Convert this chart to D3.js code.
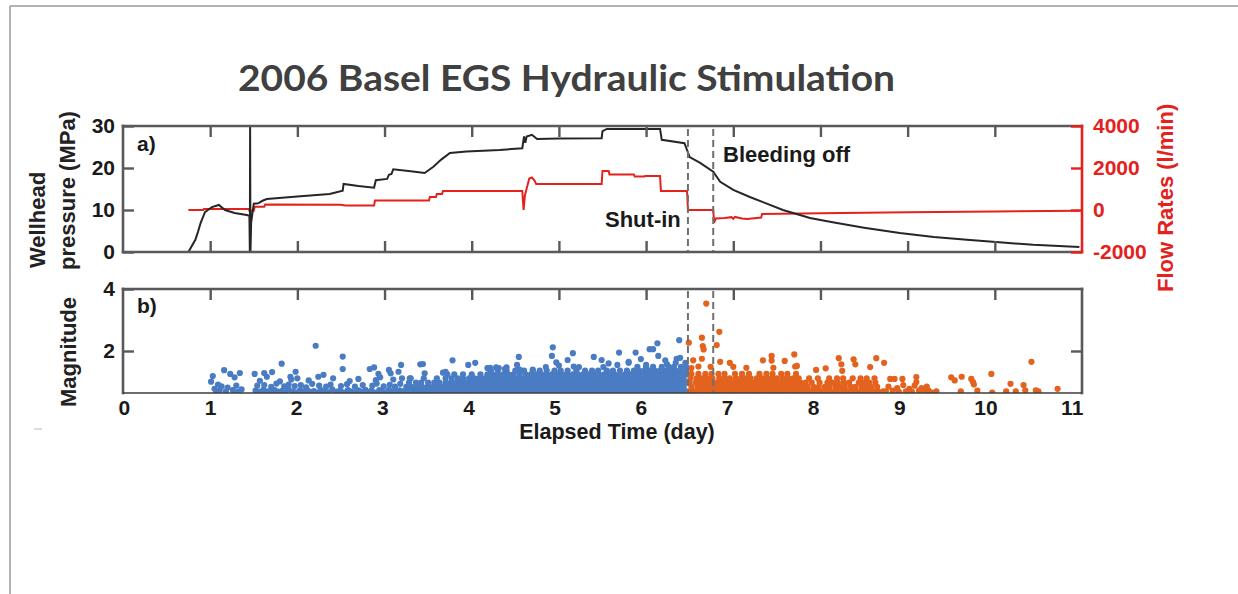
<!DOCTYPE html>
<html><head><meta charset="utf-8">
<script src="https://cdn.jsdelivr.net/npm/d3@7"></script>
<style>body{margin:0;background:#fff}svg{display:block}</style>
</head><body><svg id="c" width="1238" height="594"></svg>
<script>
// ---------------- DATA ----------------
const titleText = "2006 Basel EGS Hydraulic Stimulation";
const xTicks = [0,1,2,3,4,5,6,7,8,9,10,11];
const pressureTicks = [0,10,20,30];
const flowTicks = [-2000,0,2000,4000];
const magTicks = [2,4];

// wellhead pressure (MPa) vs elapsed time (day)
const pressure = [[0.75,0],[0.83,2.9],[0.86,4.8],[0.89,6.9],[0.94,9.5],[1.02,10.7],[1.10,11.2],[1.17,10.0],[1.28,9.3],[1.42,8.8],[1.45,8.6],[1.455,0],[1.458,30],[1.462,0],[1.47,7],[1.5,11.5],[1.55,11.6],[1.6,12.2],[1.65,12.6],[2.0,13.2],[2.37,13.8],[2.52,14.6],[2.53,16.2],[2.7,15.7],[2.88,15.3],[2.9,17.1],[3.03,17.4],[3.05,18.4],[3.08,18.6],[3.1,19.7],[3.3,19.2],[3.46,18.8],[3.56,20.3],[3.65,22],[3.75,23.6],[3.94,23.9],[4.32,24.3],[4.58,24.7],[4.6,27.5],[4.615,26],[4.63,27.5],[4.69,27.9],[4.75,26.9],[5.0,27.0],[5.49,27.1],[5.5,28.8],[5.55,29.3],[6.16,29.3],[6.18,26.7],[6.44,25.9],[6.5,22.6],[6.62,21.2],[6.77,19.1],[6.85,16.7],[7.0,14.8],[7.19,13.1],[7.57,10.0],[7.88,8.1],[8.14,7.1],[8.5,5.8],[8.91,4.5],[9.3,3.6],[9.68,2.9],[10.05,2.3],[10.44,1.7],[10.97,1.2]];

// flow rate (l/min) vs elapsed time (day)
const flow = [[0.75,0],[0.92,0],[0.93,50],[1.44,50],[1.45,-40],[1.5,-40],[1.51,150],[1.62,150],[1.63,260],[2.5,250],[2.55,210],[2.88,210],[2.89,450],[3.51,450],[3.52,620],[3.59,620],[3.6,760],[3.66,760],[3.67,900],[4.58,900],[4.595,0],[4.61,700],[4.66,1500],[4.69,1550],[4.72,1400],[4.74,1240],[5.49,1240],[5.5,1860],[5.57,1860],[5.58,1690],[5.86,1690],[5.87,1600],[5.98,1600],[5.99,1620],[6.16,1620],[6.17,900],[6.47,900],[6.48,0],[6.77,0],[6.78,-600],[6.8,-400],[6.9,-380],[6.98,-340],[7.0,-420],[7.02,-330],[7.1,-400],[7.16,-430],[7.32,-360],[7.33,-190],[8,-150],[9,-110],[10,-70],[10.97,-30]];

// seismic events during injection (blue): [day, magnitude]
const blueEvents = [
[1.01,1.01],[1.03,1.19],[1.05,0.78],[1.07,0.68],[1.09,0.92],[1.11,0.74],[1.13,0.86],[1.16,1.38],[1.18,0.7],[1.2,0.82],[1.23,1.26],[1.26,0.74],[1.28,1.15],[1.3,0.88],[1.32,0.68],[1.34,1.29],[1.36,0.76],
[1.52,0.72],[1.57,0.68],[1.61,0.75],[1.66,0.7],[1.69,0.67],[1.74,0.74],[1.78,0.69],[1.83,0.72],[1.86,0.67],[1.9,0.76],[1.95,0.7],[1.99,0.66],[2.03,0.73],[2.06,0.69],[2.11,0.75],[2.15,0.68],[2.19,0.71],[2.23,0.66],[2.27,0.74],[2.31,0.7],[2.35,0.67],[2.4,0.76],[2.45,0.69],[2.49,0.72],[2.53,0.67],[2.58,0.74],[2.61,0.7],[2.65,0.66],[2.7,0.73],[2.73,0.69],[2.78,0.75],[2.82,0.68],[2.85,0.72],[2.89,0.66],[2.94,0.74],[2.97,0.7],[3.01,0.67],[3.05,0.75],[3.09,0.7],[3.13,0.68],[3.17,0.73],[3.21,0.69],
[1.54,0.88],[1.62,0.9],[1.7,0.84],[1.76,0.95],[1.85,0.86],[1.9,0.92],[1.97,0.87],[2.04,0.9],[2.1,0.83],[2.17,0.94],[2.25,0.88],[2.33,0.85],[2.38,0.92],[2.5,0.87],[2.57,0.93],[2.66,0.85],[2.75,0.9],[2.86,0.88],[2.91,0.95],[2.99,0.86],[3.06,0.91],[3.12,0.85],[3.18,0.94],
[1.57,1.04],[1.65,1.17],[1.8,1.02],[1.93,1.08],[2.0,1.12],[2.13,1.05],[2.24,1.17],[2.3,1.23],[2.41,1.12],[2.6,1.03],[2.7,1.1],[2.9,1.06],[2.95,1.15],[3.1,1.08],[3.2,1.12],
[1.51,1.26],[1.62,1.29],[1.71,1.32],[1.82,1.59],[1.92,1.17],[1.98,1.33],[2.21,2.17],[2.52,1.82],[2.52,1.42],[2.83,1.42],[2.88,1.47],[2.93,1.26],[3.05,1.39],[3.07,1.28],[3.16,1.33],[3.19,1.55],[3.29,1.12],[3.41,1.57],
[3.44,1.58],[3.46,1.28],[3.7,1.33],[3.78,1.70],[3.96,1.55],[4.04,1.62],[4.21,1.46],[4.31,1.45],[4.38,1.42],[4.52,1.55],[4.54,1.81],[4.55,1.40],[4.92,1.84],[4.93,2.12],[4.97,1.63],[5.10,1.71],[5.16,1.93],[5.17,1.50],[5.40,1.81],[5.49,1.71],[5.57,1.60],[5.69,1.95],[5.80,1.65],[5.88,1.95],[5.94,1.74],[6.04,2.06],[6.08,2.06],[6.13,2.25],[6.14,1.84],[6.24,1.57],[6.34,1.62],[6.38,2.35],[6.39,1.78],
[3.67,1.3],[4.18,1.45],[4.28,1.47],[4.4,1.47],[4.7,1.4],[4.85,1.48],[5.0,1.53],[5.23,1.48],[5.51,1.48],[5.67,1.55],[5.8,1.62],[6.0,1.55],[6.22,1.7],[6.35,1.75],[6.45,1.62]
];
// dense blue band: [magnitude, days]
const blueBand = [
[0.70,[3.22,3.28,3.34,3.40,3.46,3.52,3.58,3.64,3.70,3.76,3.82,3.88,3.94,4.00,4.06,4.12,4.18,4.24,4.30,4.36,4.42,4.48,4.54,4.60,4.66,4.72,4.78,4.84,4.90,4.96,5.02,5.08,5.14,5.20,5.26,5.32,5.38,5.44,5.50,5.56,5.62,5.68,5.74,5.80,5.86,5.92,5.98,6.04,6.10,6.16,6.22,6.28,6.34,6.40,6.46]],
[0.84,[3.25,3.31,3.37,3.43,3.49,3.55,3.61,3.67,3.73,3.79,3.85,3.91,3.97,4.03,4.09,4.15,4.21,4.27,4.33,4.39,4.45,4.51,4.57,4.63,4.69,4.75,4.81,4.87,4.93,4.99,5.05,5.11,5.17,5.23,5.29,5.35,5.41,5.47,5.53,5.59,5.65,5.71,5.77,5.83,5.89,5.95,6.01,6.07,6.13,6.19,6.25,6.31,6.37,6.43]],
[0.98,[3.28,3.36,3.42,3.5,3.57,3.63,3.7,3.76,3.82,3.88,3.94,4.0,4.06,4.12,4.18,4.24,4.3,4.36,4.42,4.48,4.54,4.6,4.66,4.72,4.78,4.84,4.9,4.96,5.02,5.08,5.14,5.2,5.26,5.32,5.38,5.44,5.5,5.56,5.62,5.68,5.74,5.8,5.86,5.92,5.98,6.04,6.1,6.16,6.22,6.28,6.34,6.4,6.46]],
[1.12,[3.3,3.45,3.6,3.7,3.77,3.84,3.9,3.97,4.03,4.09,4.15,4.21,4.27,4.33,4.39,4.45,4.51,4.57,4.63,4.69,4.75,4.81,4.87,4.93,4.99,5.05,5.11,5.17,5.23,5.29,5.35,5.41,5.47,5.53,5.59,5.65,5.71,5.77,5.83,5.89,5.95,6.01,6.07,6.13,6.19,6.25,6.31,6.37,6.43]],
[1.25,[3.72,3.8,3.9,4.0,4.1,4.18,4.24,4.3,4.36,4.42,4.48,4.55,4.62,4.68,4.74,4.8,4.86,4.92,4.98,5.04,5.1,5.16,5.22,5.28,5.34,5.4,5.46,5.52,5.58,5.64,5.7,5.76,5.82,5.88,5.94,6.0,6.06,6.12,6.18,6.24,6.3,6.36,6.42,6.46]],
[1.37,[4.22,4.3,4.4,4.5,4.6,4.7,4.78,4.86,4.95,5.02,5.1,5.2,5.3,5.38,5.45,5.55,5.62,5.7,5.78,5.86,5.92,5.98,6.04,6.1,6.16,6.22,6.28,6.34,6.4,6.46]],
[1.49,[5.9,6.0,6.08,6.18,6.26,6.32,6.4,6.46]]
];

// seismic events after shut-in (orange): [day, magnitude]
const orangeEvents = [
[6.49,2.27],[6.54,1.70],[6.64,2.43],[6.65,2.16],[6.66,2.05],[6.64,1.75],[6.69,3.53],[6.74,1.49],[6.81,2.19],[6.84,2.62],[6.85,1.65],[6.96,1.62],[7.00,1.49],[7.15,1.46],[7.34,1.70],[7.44,1.84],[7.44,1.69],[7.46,1.46],[7.59,1.68],[7.70,1.89],[7.73,1.52],[7.71,1.5],[7.95,1.39],[8.06,1.44],[8.21,1.77],[8.24,1.57],[8.25,1.36],[8.38,1.73],[8.40,1.57],[8.57,1.48],[8.64,1.77],[8.73,1.62],[6.6,1.5],[6.52,1.45],
[8.75,0.7],[8.78,0.85],[8.8,1.1],[8.83,0.72],[8.85,1.1],[8.88,0.8],[8.9,0.68],[8.94,1.1],[8.95,0.9],[8.98,0.7],[9.02,0.78],[9.05,0.68],[9.08,0.88],[9.1,1.16],[9.1,1.0],[9.13,0.72],[9.16,0.8],[9.2,0.68],[9.22,0.85],[9.24,0.72],[9.28,0.66],[9.33,0.7],
[9.50,1.15],[9.54,1.05],[9.62,1.17],[9.61,0.70],[9.73,1.10],[9.75,1.0],[9.76,0.92],[9.80,0.72],[9.96,1.26],[9.97,0.66],[10.18,0.94],[10.13,0.70],[10.24,0.70],[10.33,0.9],[10.35,0.73],[10.42,1.65],[10.47,0.73],[10.5,0.7],[10.72,0.78]
];
const orangeBand = [
[0.70,[6.5,6.56,6.62,6.68,6.74,6.8,6.86,6.92,6.98,7.04,7.1,7.16,7.22,7.28,7.34,7.4,7.46,7.52,7.58,7.64,7.7,7.76,7.82,7.88,7.94,8.0,8.06,8.12,8.18,8.24,8.3,8.36,8.42,8.48,8.54,8.6,8.66,8.72]],
[0.84,[6.52,6.59,6.65,6.71,6.77,6.83,6.89,6.95,7.01,7.07,7.13,7.19,7.25,7.31,7.37,7.43,7.49,7.55,7.61,7.67,7.73,7.79,7.85,7.92,7.98,8.05,8.1,8.17,8.22,8.28,8.35,8.4,8.47,8.52,8.58,8.65]],
[0.98,[6.5,6.57,6.63,6.69,6.75,6.81,6.87,6.93,6.99,7.05,7.11,7.17,7.23,7.29,7.35,7.41,7.47,7.53,7.59,7.65,7.71,7.77,7.83,7.9,7.99,8.08,8.14,8.2,8.27,8.33,8.44,8.5,8.56,8.63]],
[1.12,[6.51,6.58,6.64,6.7,6.76,6.84,6.9,6.96,7.03,7.09,7.14,7.2,7.27,7.33,7.39,7.45,7.5,7.57,7.63,7.69,7.75,7.87,7.97,8.1,8.19,8.26,8.37,8.46,8.53,8.62]],
[1.26,[6.52,6.6,6.68,6.75,6.83,6.9,7.02,7.1,7.18,7.3,7.38,7.45,7.55,7.62,7.72]]
];

const phases = [{t:6.48, label:"Shut-in"},{t:6.77, label:"Bleeding off"}];

// ---------------- DRAW ----------------
const svg = d3.select("#c");
const FONT = "'Liberation Sans', Arial, Helvetica, sans-serif";
const FRAME = "#59595b", RED = "#e3211d", BLUE = "#4a7cc4", ORANGE = "#e2621e", INK = "#1a1a1a";
const fmt = d3.format("d");
const fmtFlow = v => String(v);

const x = d3.scaleLinear().domain([0, 11]).range([123, 1082]);
const xLabel = d3.scaleLinear().domain([0, 11]).range([123.8, 1071.7]);
const yP = d3.scaleLinear().domain([0, 30]).range([252, 126]);
const yF = d3.scaleLinear().domain([-2000, 4000]).range([252, 126]);
const yM = d3.scaleLinear().domain([0.645, 4]).range([393, 289]);

// slide border
svg.append("line").attr("x1",10).attr("y1",6).attr("x2",1238).attr("y2",6).attr("stroke","#9a9a9a").attr("stroke-width",1.5);
svg.append("line").attr("x1",10).attr("y1",6).attr("x2",10).attr("y2",594).attr("stroke","#9a9a9a").attr("stroke-width",1.5);
svg.append("line").attr("x1",34).attr("y1",429).attr("x2",42).attr("y2",429).attr("stroke","#bbb").attr("stroke-width",1);

// title
svg.append("text").attr("x",238).attr("y",91).text(titleText)
  .attr("textLength",657).attr("lengthAdjust","spacingAndGlyphs")
  .style("font-family","Lato, 'Open Sans', sans-serif").style("font-weight","700").style("font-size","37px").attr("fill","#404040");

const defs = svg.append("defs");
defs.append("clipPath").attr("id","clipA").append("rect")
  .attr("x",x(0)).attr("y",yP(30)).attr("width",x(11)-x(0)).attr("height",yP(0)-yP(30));
defs.append("clipPath").attr("id","clipB").append("rect")
  .attr("x",x(0)).attr("y",yM(4)).attr("width",x(11)-x(0)).attr("height",yM(0.645)-yM(4));

// panel a data
const gA = svg.append("g").attr("clip-path","url(#clipA)");
gA.append("path").datum(flow).attr("fill","none").attr("stroke",RED).attr("stroke-width",2)
  .attr("d", d3.line().x(d=>x(d[0])).y(d=>yF(d[1])));
gA.append("path").datum(pressure).attr("fill","none").attr("stroke","#262626").attr("stroke-width",2)
  .attr("d", d3.line().x(d=>x(d[0])).y(d=>yP(d[1])));

// panel b data
const expand = band => band.flatMap(([m, ts]) => ts.map(t => [t, m]));
const blueAll = expand(blueBand).concat(blueEvents);
const orangeAll = expand(orangeBand).concat(orangeEvents);
const gB = svg.append("g").attr("clip-path","url(#clipB)");
gB.selectAll("circle.b").data(blueAll).join("circle").attr("class","b")
  .attr("cx",d=>x(d[0])).attr("cy",d=>yM(d[1])).attr("r",3.1).attr("fill",BLUE);
gB.selectAll("circle.o").data(orangeAll).join("circle").attr("class","o")
  .attr("cx",d=>x(d[0])).attr("cy",d=>yM(d[1])).attr("r",3.1).attr("fill",ORANGE);

// dashed phase lines
phases.forEach(p => {
  svg.append("line").attr("x1",x(p.t)).attr("x2",x(p.t)).attr("y1",yP(30)+3).attr("y2",yP(0))
    .attr("stroke","#707070").attr("stroke-width",2).attr("stroke-dasharray","7,4");
  svg.append("line").attr("x1",x(p.t)).attr("x2",x(p.t)).attr("y1",yM(4)+2).attr("y2",yM(0.645))
    .attr("stroke","#707070").attr("stroke-width",2).attr("stroke-dasharray","7,4");
});

function styleAxis(g, color, labelColor){
  g.select(".domain").remove();
  g.selectAll(".tick line").attr("stroke",color).attr("stroke-width",2.4);
  g.selectAll(".tick text").attr("fill",labelColor||INK)
    .style("font-family",FONT).style("font-weight","bold").style("font-size","21px");
}
const inner = xTicks.slice(1,-1);

// panel a axes
svg.append("g").attr("transform",`translate(0,${yP(30)})`)
  .call(d3.axisTop(x).tickValues(inner).tickSize(-11).tickFormat("")).call(g=>styleAxis(g,FRAME));
svg.append("g").attr("transform",`translate(0,${yP(0)})`)
  .call(d3.axisBottom(x).tickValues(inner).tickSize(-11).tickFormat("")).call(g=>styleAxis(g,FRAME));
svg.append("g").attr("transform",`translate(${x(0)},0)`)
  .call(d3.axisLeft(yP).tickValues(pressureTicks).tickSize(-11).tickPadding(8).tickFormat(fmt)).call(g=>styleAxis(g,FRAME));
// frame a
const frame = (x1,y1,x2,y2,c,w) => svg.append("line").attr("x1",x1).attr("y1",y1).attr("x2",x2).attr("y2",y2)
  .attr("stroke",c).attr("stroke-width",w).attr("stroke-linecap","square");
frame(x(0),yP(30),x(11),yP(30),FRAME,2.6);
frame(x(0),yP(0),x(11),yP(0),FRAME,2.6);
frame(x(0),yP(30),x(0),yP(0),FRAME,2.6);
svg.append("g").attr("transform",`translate(${x(11)},0)`)
  .call(d3.axisRight(yF).tickValues(flowTicks).tickSize(-11).tickPadding(11).tickFormat(fmtFlow)).call(g=>styleAxis(g,RED,RED));
frame(x(11),yP(30),x(11),yP(0),RED,2.6);

// panel b axes
svg.append("g").attr("transform",`translate(0,${yM(4)})`)
  .call(d3.axisTop(x).tickValues(inner).tickSize(-11).tickFormat("")).call(g=>styleAxis(g,FRAME));
svg.append("g").attr("transform",`translate(${x(0)},0)`)
  .call(d3.axisLeft(yM).tickValues(magTicks).tickSize(-11).tickPadding(8).tickFormat(fmt)).call(g=>styleAxis(g,FRAME));
svg.append("g").attr("transform",`translate(${x(11)},0)`)
  .call(d3.axisRight(yM).tickValues([2]).tickSize(-11).tickFormat("")).call(g=>styleAxis(g,FRAME));
frame(x(0),yM(4),x(11),yM(4),FRAME,2.6);
frame(x(0),yM(4),x(0),yM(0.645),FRAME,2.6);
frame(x(11),yM(4),x(11),yM(0.645),FRAME,2.6);
svg.append("line").attr("x1",x(0)).attr("x2",x(11)).attr("y1",yM(0.645)).attr("y2",yM(0.645))
  .attr("stroke","#3c3c3e").attr("stroke-width",1.6);
svg.append("g").attr("transform",`translate(0,${yM(0.645)})`)
  .call(d3.axisBottom(xLabel).tickValues(xTicks).tickSize(0).tickPadding(7).tickFormat(fmt)).call(g=>styleAxis(g,FRAME));

// texts
const txt = (s, xx, yy, opts={}) => {
  const t = svg.append("text").attr("x",xx).attr("y",yy).text(s)
    .style("font-family",FONT).style("font-weight","bold").style("font-size",(opts.size||22)+"px")
    .attr("fill",opts.fill||INK).attr("text-anchor",opts.anchor||"start");
  if (opts.rot) t.attr("transform",`rotate(-90,${xx},${yy})`);
  return t;
};
txt("a)", 137, 151, {size:21});
txt("b)", 137, 313, {size:21});
txt(phases[0].label, 605, 227);
txt(phases[1].label, 723, 162);
txt("Wellhead", 45, 268, {rot:true, fill:"#222"});
txt("pressure (MPa)", 75, 270, {rot:true, fill:"#222"});
txt("Magnitude", 76, 407, {rot:true, fill:"#222"});
txt("Flow Rates (l/min)", 1173, 292, {rot:true, fill:RED});
txt("Elapsed Time (day)", 617, 439, {anchor:"middle", size:21.5});
</script></body></html>
